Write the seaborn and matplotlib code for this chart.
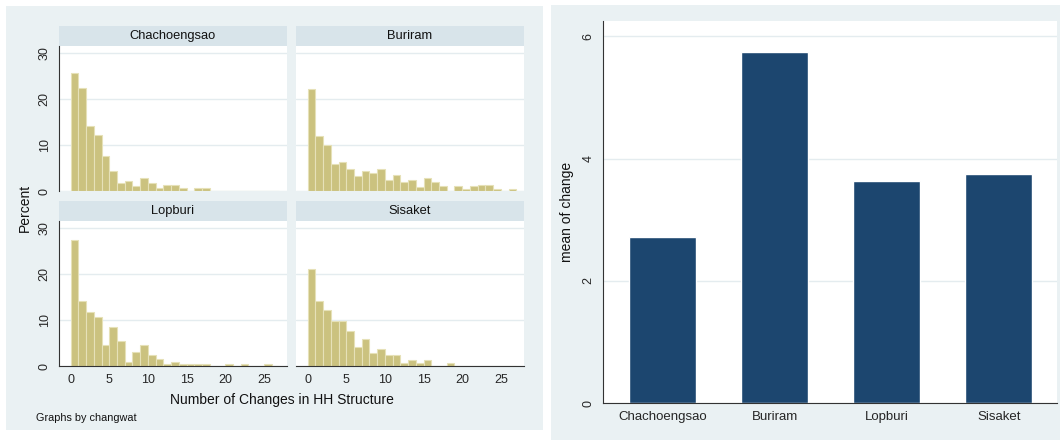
import numpy as np
import pandas as pd
import matplotlib
matplotlib.use("Agg")
import matplotlib.pyplot as plt
from matplotlib.patches import Rectangle
import seaborn as sns

# Percent of households by number of changes (bins of width 1, starting at 0)
chachoengsao_pct = [25.8, 22.5, 14.1, 12.3, 7.6, 4.3, 1.7, 2.2, 1.1, 2.8, 1.7, 0.6,
                    1.2, 1.2, 0.6, 0.0, 0.6, 0.6]
buriram_pct = [22.3, 12.0, 10.1, 5.8, 6.3, 4.9, 3.3, 4.3, 3.9, 4.9, 2.3, 3.4, 2.0,
               2.4, 0.9, 2.9, 2.0, 1.0, 0.0, 1.0, 0.4, 1.0, 1.4, 1.4, 0.5, 0.0, 0.5]
lopburi_pct = [27.4, 14.2, 11.7, 10.6, 4.5, 8.6, 5.5, 0.9, 3.1, 4.6, 2.5, 1.5, 0.4,
               0.9, 0.4, 0.4, 0.4, 0.4, 0.0, 0.0, 0.4, 0.0, 0.4, 0.0, 0.0, 0.4]
sisaket_pct = [21.1, 14.1, 12.3, 9.9, 9.9, 7.6, 4.1, 5.8, 2.9, 3.6, 2.3, 2.3, 0.6,
               1.2, 0.6, 1.2, 0.0, 0.0, 0.6]

provinces = ["Chachoengsao", "Buriram", "Lopburi", "Sisaket"]
mean_change = [2.72, 5.75, 3.635, 3.75]

hist_xticks = [0, 5, 10, 15, 20, 25]
hist_yticks = [0, 10, 20, 30]
bar_yticks = [0, 2, 4, 6]

W, H = 1060, 440
BG = "#eaf1f3"
STRIP = "#d8e4ea"
GRID = "#e4ecef"
KHAKI = "#cbc27f"
KHAKI_EDGE = "#e6e1b8"
NAVY = "#1c466f"
AXIS = "#333333"

sns.set_style("white")
plt.rcParams['font.family'] = ['Liberation Sans', 'DejaVu Sans']


def box(x0, y0, x1, y1):
    # pixel box (top-left origin) -> figure fraction rect
    return [x0 / W, 1 - y1 / H, (x1 - x0) / W, (y1 - y0) / H]


def add_rect(fig, x0, y0, x1, y1, color):
    r = box(x0, y0, x1, y1)
    fig.add_artist(Rectangle((r[0], r[1]), r[2], r[3], transform=fig.transFigure,
                             facecolor=color, edgecolor="none", zorder=0))


fig = plt.figure(figsize=(W / 100, H / 100), dpi=100)
fig.patch.set_facecolor("white")

# graph region backgrounds
add_rect(fig, 6, 6, 543, 430, BG)
add_rect(fig, 551, 5, 1060, 440, BG)

panels = [
    ("Chachoengsao", chachoengsao_pct, (59, 287), (46, 191), True, False),
    ("Buriram", buriram_pct, (296, 524), (46, 191), False, False),
    ("Lopburi", lopburi_pct, (59, 287), (221, 366), True, True),
    ("Sisaket", sisaket_pct, (296, 524), (221, 366), False, True),
]

for name, pct, (x0, x1), (y0, y1), show_y, show_x in panels:
    # strip with the province name
    add_rect(fig, x0, y0 - 20, x1, y0, STRIP)
    fig.text((x0 + x1) / 2 / W, 1 - (y0 - 10) / H, name, ha="center", va="center",
             fontsize=9.3, color="#111111")

    df = pd.DataFrame({"changes": np.arange(len(pct)) + 0.5, "pct": pct})
    ax = fig.add_axes(box(x0, y0, x1, y1))
    ax.set_facecolor("white")
    sns.histplot(data=df, x="changes", weights="pct", binwidth=1, binrange=(0, 27),
                 ax=ax, color=KHAKI, edgecolor=KHAKI_EDGE, linewidth=0.8, alpha=1)
    ax.set_xlim(-1.5, 28)
    ax.set_ylim(0, 31.6)
    ax.set_yticks(hist_yticks)
    ax.set_xticks(hist_xticks)
    ax.yaxis.grid(True, color=GRID, linewidth=1)
    ax.set_axisbelow(True)
    for s in ax.spines.values():
        s.set_visible(False)
    ax.set_xlabel("")
    ax.set_ylabel("")
    if show_y:
        ax.spines["left"].set_visible(True)
        ax.spines["left"].set_color(AXIS)
        ax.spines["left"].set_linewidth(0.8)
        ax.tick_params(axis="y", length=4, width=0.8, color=AXIS, labelsize=9, pad=2)
        for lab in ax.get_yticklabels():
            lab.set_rotation(90)
            lab.set_va("center")
    else:
        ax.tick_params(axis="y", length=0, labelleft=False)
    if show_x:
        ax.spines["bottom"].set_visible(True)
        ax.spines["bottom"].set_color(AXIS)
        ax.spines["bottom"].set_linewidth(0.8)
        ax.tick_params(axis="x", length=4, width=0.8, color=AXIS, labelsize=9, pad=2)
    else:
        ax.tick_params(axis="x", length=0, labelbottom=False)

fig.text(282 / W, 1 - 400 / H, "Number of Changes in HH Structure", ha="center",
         va="center", fontsize=10, color="#111111")
fig.text(25 / W, 1 - 208 / H, "Percent", ha="center", va="center", rotation=90,
         fontsize=10, color="#111111")
fig.text(36 / W, 1 - 418 / H, "Graphs by changwat", ha="left", va="center",
         fontsize=7.8, color="#111111")

# right: mean of change by province
ax2 = fig.add_axes(box(603, 21, 1057, 403))
ax2.set_facecolor("white")
sns.barplot(x=provinces, y=mean_change, color=NAVY, saturation=1, width=0.6,
            ax=ax2, errorbar=None)
ax2.set_xlim(-0.53, 3.52)
ax2.set_ylim(0, 6.25)
ax2.set_yticks(bar_yticks)
ax2.yaxis.grid(True, color=GRID, linewidth=1)
ax2.set_axisbelow(True)
for s in ["top", "right"]:
    ax2.spines[s].set_visible(False)
for s in ["left", "bottom"]:
    ax2.spines[s].set_color(AXIS)
    ax2.spines[s].set_linewidth(0.8)
ax2.tick_params(axis="y", length=4, width=0.8, color=AXIS, labelsize=9, pad=2)
ax2.tick_params(axis="x", length=0, labelsize=9.5, pad=6)
for lab in ax2.get_yticklabels():
    lab.set_rotation(90)
    lab.set_va("center")
ax2.set_xlabel("")
ax2.set_ylabel("mean of change", fontsize=10, color="#111111", labelpad=6)

fig.savefig("out.png", dpi=100, facecolor="white")
